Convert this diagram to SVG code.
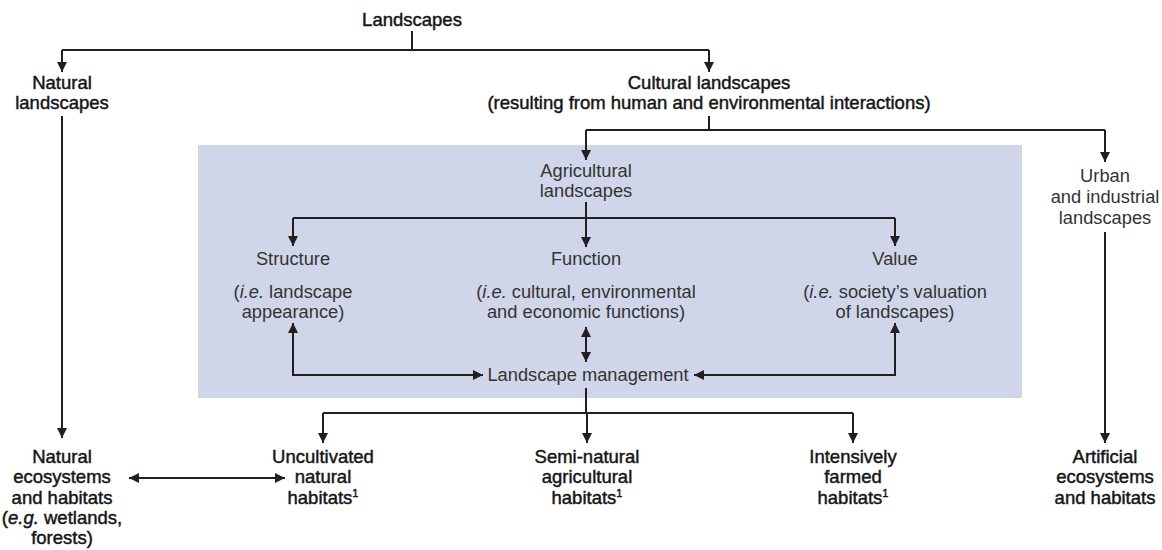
<svg xmlns="http://www.w3.org/2000/svg" width="1162" height="550" viewBox="0 0 1162 550">
<style>
text{font-family:"Liberation Sans",Arial,sans-serif;font-size:18px;text-anchor:middle}
.o{fill:#151515;stroke:#151515;stroke-width:0.45;font-size:18.5px}
.i{fill:#333;font-size:18.3px}
.c{fill:none;stroke:#231f20;stroke-width:2}
</style>
<defs>
<marker id="a" viewBox="0 0 10 10" refX="10" refY="5" markerWidth="11" markerHeight="10" markerUnits="userSpaceOnUse" orient="auto-start-reverse"><path d="M0,0 L10,5 L0,10 z" fill="#231f20"/></marker>
</defs>
<rect x="198" y="145" width="824" height="253" fill="#d0d6ea"/>
<g id="connectors">
<path class="c" d="M412,31 V50"/>
<path class="c" d="M62,50 H709" />
<path class="c" d="M62,50 V72" marker-end="url(#a)"/>
<path class="c" d="M709,50 V72" marker-end="url(#a)"/>
<path class="c" d="M62,116 V438" marker-end="url(#a)"/>
<path class="c" d="M709,116 V130"/>
<path class="c" d="M586,130 H1105"/>
<path class="c" d="M586,130 V160" marker-end="url(#a)"/>
<path class="c" d="M1105,130 V162" marker-end="url(#a)"/>
<path class="c" d="M586,202 V247" marker-end="url(#a)"/>
<path class="c" d="M293,218 H895"/>
<path class="c" d="M293,218 V246" marker-end="url(#a)"/>
<path class="c" d="M895,218 V246" marker-end="url(#a)"/>
<path class="c" d="M293,323 V375 H483" marker-start="url(#a)" marker-end="url(#a)"/>
<path class="c" d="M895,323 V375 H694" marker-start="url(#a)" marker-end="url(#a)"/>
<path class="c" d="M586,327 V362" marker-start="url(#a)" marker-end="url(#a)"/>
<path class="c" d="M586,388 V413"/>
<path class="c" d="M323,413 H853"/>
<path class="c" d="M323,413 V443" marker-end="url(#a)"/>
<path class="c" d="M587,413 V443" marker-end="url(#a)"/>
<path class="c" d="M853,413 V443" marker-end="url(#a)"/>
<path class="c" d="M1105,232 V443" marker-end="url(#a)"/>
<path class="c" d="M129,478 H285" marker-start="url(#a)" marker-end="url(#a)"/>
</g>
<g id="landscapes"><text class="o" x="412" y="26">Landscapes</text></g>
<g id="natural"><text class="o" x="62" y="89">Natural</text><text class="o" x="62" y="109">landscapes</text></g>
<g id="cultural"><text class="o" x="709" y="89">Cultural landscapes</text><text class="o" x="709" y="109">(resulting from human and environmental interactions)</text></g>
<g id="agricultural"><text class="i" x="586" y="177">Agricultural</text><text class="i" x="586" y="197">landscapes</text></g>
<g id="urban"><text class="i" x="1105" y="182">Urban</text><text class="i" x="1105" y="203">and industrial</text><text class="i" x="1105" y="224">landscapes</text></g>
<g id="structure"><text class="i" x="293" y="265">Structure</text><text class="i" x="293" y="298">(<tspan font-style="italic">i.e.</tspan> landscape</text><text class="i" x="293" y="318">appearance)</text></g>
<g id="function"><text class="i" x="586" y="265">Function</text><text class="i" x="586" y="298">(<tspan font-style="italic">i.e.</tspan> cultural, environmental</text><text class="i" x="586" y="318">and economic functions)</text></g>
<g id="value"><text class="i" x="895" y="265">Value</text><text class="i" x="895" y="298">(<tspan font-style="italic">i.e.</tspan> society’s valuation</text><text class="i" x="895" y="318">of landscapes)</text></g>
<g id="management"><text class="i" x="588" y="381">Landscape management</text></g>
<g id="natural-eco"><text class="o" x="62" y="463">Natural</text><text class="o" x="62" y="483">ecosystems</text><text class="o" x="62" y="504">and habitats</text><text class="o" x="62" y="524">(<tspan font-style="italic">e.g.</tspan> wetlands,</text><text class="o" x="62" y="544">forests)</text></g>
<g id="uncultivated"><text class="o" x="323" y="463">Uncultivated</text><text class="o" x="323" y="483">natural</text><text class="o" x="323" y="504">habitats<tspan font-size="11" dy="-7">1</tspan></text></g>
<g id="seminatural"><text class="o" x="587" y="463">Semi-natural</text><text class="o" x="587" y="483">agricultural</text><text class="o" x="587" y="504">habitats<tspan font-size="11" dy="-7">1</tspan></text></g>
<g id="intensive"><text class="o" x="853" y="463">Intensively</text><text class="o" x="853" y="483">farmed</text><text class="o" x="853" y="504">habitats<tspan font-size="11" dy="-7">1</tspan></text></g>
<g id="artificial"><text class="o" x="1105" y="463">Artificial</text><text class="o" x="1105" y="483">ecosystems</text><text class="o" x="1105" y="504">and habitats</text></g>
</svg>
